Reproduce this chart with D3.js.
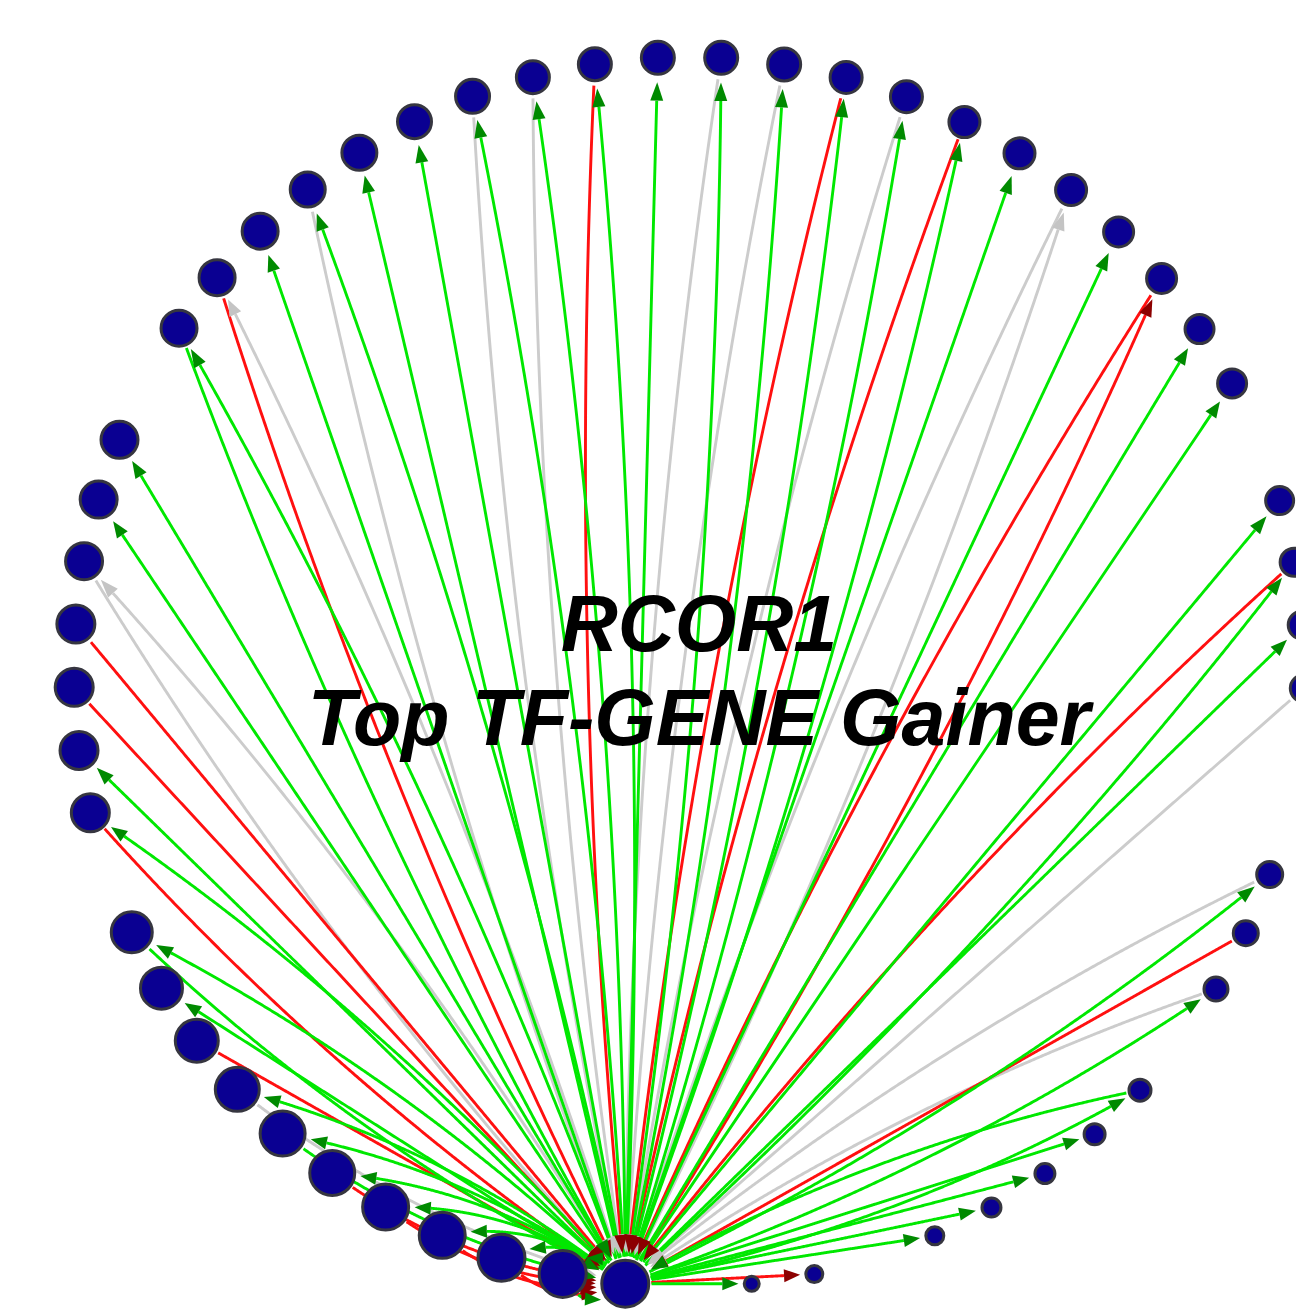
<!DOCTYPE html>
<html>
<head>
<meta charset="utf-8">
<script src="https://cdn.jsdelivr.net/npm/d3@7"></script>
<style>
  html, body { margin: 0; padding: 0; background: #ffffff; }
  svg { display: block; }
</style>
</head>
<body>
<svg id="chart" width="1296" height="1316"></svg>
<script>
// ---------------- DATA ----------------
const hubName = "RCOR1";
const titleLines = ["RCOR1", "Top TF-GENE Gainer"];
const slotCount = 61;

// node score per circle slot (slot 0 = hub, null = empty slot), clockwise from the hub
const nodeScores = [
  100, 100, 100, 98, 98, 96, 96, 94, 92, 90,
  88, null, 82, 82, 82, 82, 80, 80, 80, null,
  78, 78, 78, 76, 76, 74, 74, 72, 72, 72,
  72, 72, 70, 70, 68, 68, 68, 66, 66, 64,
  64, null, 62, 62, 62, 60, null, null, 58, 56,
  54, null, 50, 48, 46, 44, 42, null, 40, 36,
  null
];

// links per slot: colour letter (G green, R red, X grey) + direction
// ">" = hub -> node, "<" = node -> hub
const slotLinks = [
  [], ["G>","G<"], ["G>","R<"], ["G>","R<"], ["G>","R<"], ["G>","R<"], ["G>","G<"], ["G>","X<"], ["R<"], ["G>"],
  ["G>","G<"], [], ["G>","R<"], ["G>"], ["R<"], ["R<"], ["X>","X<"], ["G>"], ["G>"], [],
  ["G>","G<"], ["X>","R<"], ["G>"], ["G>","X<"], ["G>"], ["G>"], ["G>","X<"], ["G>","X<"], ["G>","R<"], ["G>"],
  ["G>","X<"], ["G>","X<"], ["G>","R<"], ["G>","X<"], ["G>","R<"], ["G>"], ["X>","X<"], ["G>"], ["R>","R<"], ["G>"],
  ["G>"], [], ["G>"], ["G>","R<"], ["G>"], ["X<"], [], [], ["G>","X<"], ["R<"],
  ["G>","X<"], [], ["G>","G<"], ["G>"], ["G>"], ["G>"], ["G>"], [], ["R>"], ["G>"],
  []
];

const linkColors = { G: "#00e800", R: "#ff1010", X: "#cccccc" };
const arrowColors = { G: "#008a00", R: "#8c0000", X: "#c4c4c4" };

// ---------------- LAYOUT ----------------
const svg = d3.select("#chart");
const cx = 689, cy = 672, R = 615;
const startDeg = 185.95;
const angle = d3.scaleLinear()
  .domain([0, slotCount])
  .range([startDeg * Math.PI / 180, (startDeg + 360) * Math.PI / 180]);
const radius = d3.scaleLinear().domain([0, 100]).range([0, 25]);

const nodes = [];
nodeScores.forEach((s, i) => {
  if (s == null) return;
  const a = angle(i);
  nodes.push({
    slot: i,
    x: cx + R * Math.sin(a),
    y: cy - R * Math.cos(a),
    r: radius(s),
    hub: i === 0,
    links: slotLinks[i]
  });
});
const hub = nodes.find(n => n.hub);

// build link geometry
const links = [];
nodes.forEach(n => {
  if (n.hub) return;
  const pair = n.links.length > 1;
  n.links.forEach(code => {
    const color = code[0];
    const toNode = code[1] === ">";
    links.push({ node: n, color, toNode, offset: pair ? (toNode ? 22 : -22) : 0 });
  });
});

function quad(p0, c, p2, t) {
  const u = 1 - t;
  return [u*u*p0[0] + 2*u*t*c[0] + t*t*p2[0], u*u*p0[1] + 2*u*t*c[1] + t*t*p2[1]];
}
const dist = (a, b) => Math.hypot(a[0]-b[0], a[1]-b[1]);

const arrowLen = 16, arrowHalf = 6.5, tipGap = 4, startGap = 1;
const lineGen = d3.line();

links.forEach(l => {
  const H = [hub.x, hub.y], N = [l.node.x, l.node.y];
  const dx = N[0]-H[0], dy = N[1]-H[1], len = Math.hypot(dx, dy);
  const nx = -dy/len, ny = dx/len;
  // quadratic control point doubled so curve midpoint offset = offset
  const C = [(H[0]+N[0])/2 + nx*l.offset*2, (H[1]+N[1])/2 + ny*l.offset*2];
  const src = l.toNode ? H : N, tgt = l.toNode ? N : H;
  const rs = l.toNode ? hub.r : l.node.r, rt = l.toNode ? l.node.r : hub.r;
  const steps = 400;
  const pts = d3.range(steps + 1).map(i => quad(src, C, tgt, i / steps));
  let i0 = 0; while (i0 < steps && dist(pts[i0], src) < rs + startGap) i0++;
  let i1 = steps; while (i1 > 0 && dist(pts[i1], tgt) < rt + tipGap) i1--;
  const tip = pts[i1];
  let ib = i1; while (ib > i0 && dist(pts[ib], tip) < arrowLen) ib--;
  const base = pts[ib];
  l.path = pts.slice(i0, ib + 1);
  const ux = (tip[0]-base[0]) / dist(tip, base), uy = (tip[1]-base[1]) / dist(tip, base);
  l.arrow = [tip, [base[0] - uy*arrowHalf, base[1] + ux*arrowHalf], [base[0] + uy*arrowHalf, base[1] - ux*arrowHalf]];
});

const order = { X: 0, R: 1, G: 2 };
links.sort((a, b) => order[a.color] - order[b.color]);

// ---------------- DRAW ----------------
svg.append("rect").attr("width", 1296).attr("height", 1316).attr("fill", "#ffffff");

const gLinks = svg.append("g");
gLinks.selectAll("path.link").data(links).join("path")
  .attr("class", "link")
  .attr("d", d => lineGen(d.path))
  .attr("fill", "none")
  .attr("stroke", d => linkColors[d.color])
  .attr("stroke-width", 2.9);

gLinks.selectAll("path.arrow").data(links).join("path")
  .attr("class", "arrow")
  .attr("d", d => "M" + d.arrow.map(p => p.join(",")).join("L") + "Z")
  .attr("fill", d => arrowColors[d.color]);

svg.append("g").selectAll("circle").data(nodes).join("circle")
  .attr("cx", d => d.x)
  .attr("cy", d => d.y)
  .attr("r", d => d.r - 1.5)
  .attr("fill", "#0a0092")
  .attr("stroke", "#363640")
  .attr("stroke-width", 3);

const title = svg.append("text")
  .attr("text-anchor", "middle")
  .attr("font-family", "'Liberation Sans', Arial, Helvetica, sans-serif")
  .attr("font-weight", "bold")
  .attr("font-style", "italic")
  .attr("font-size", 79)
  .attr("fill", "#000000");
title.selectAll("tspan").data(titleLines).join("tspan")
  .attr("x", 699)
  .attr("y", (d, i) => 651 + i * 94)
  .text(d => d);
</script>
</body>
</html>
